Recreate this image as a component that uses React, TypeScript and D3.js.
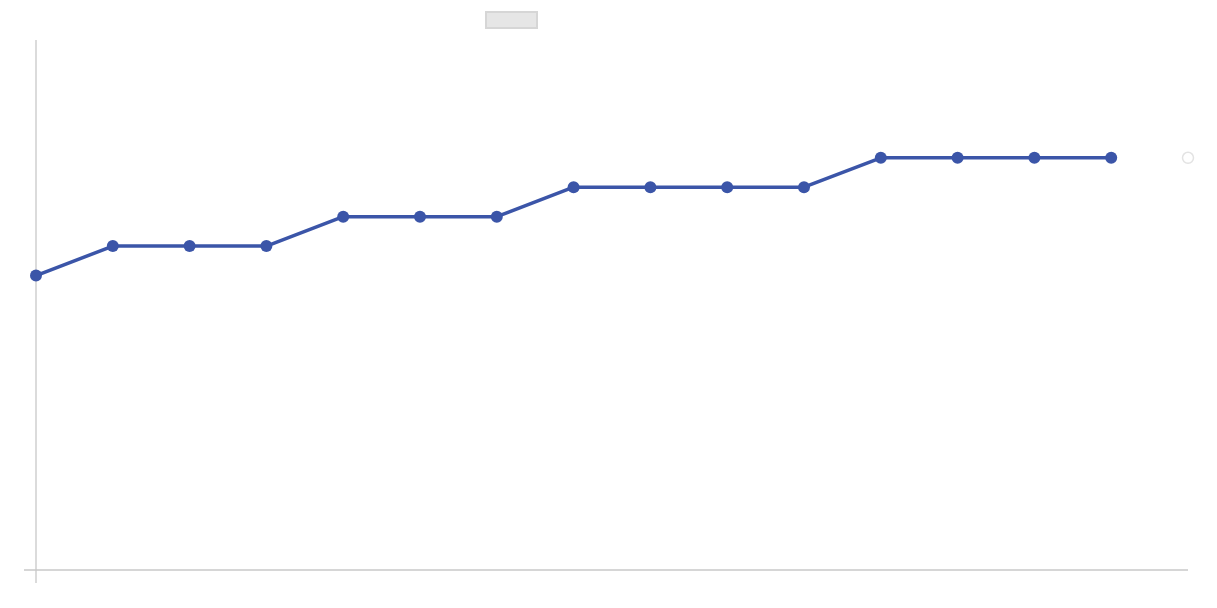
import React from "react";
import * as d3 from "d3";

const categories = ["1","2","3","4","5","6","7","8","9","10","11","12","13","14","15","16"];
const values: (number | null)[] = [10, 11, 11, 11, 12, 12, 12, 13, 13, 13, 13, 14, 14, 14, 14];
const ghostValue = 14;
const yDomain: [number, number] = [0, 18];

const W = 1217;
const H = 608;
const left = 36;
const right = 1188;
const top = 40;
const bottom = 570;

export default function App() {
  const x = d3
    .scalePoint<string>()
    .domain(categories)
    .range([left, right]);
  const y = d3.scaleLinear().domain(yDomain).range([bottom, top]);

  const pts = values.map((v, i) => ({ c: categories[i], v: v as number }));
  const line = d3
    .line<{ c: string; v: number }>()
    .x((d) => x(d.c)!)
    .y((d) => y(d.v));

  const lineColor = "#3b55a8";
  const axisColor = "#c8c8c8";

  return (
    <svg
      width={W}
      height={H}
      style={{ position: "absolute", left: 0, top: 0, background: "#fff" }}
    >
      <rect x={486} y={12} width={51} height={16} fill="#e6e6e6" stroke="#d6d6d6" strokeWidth={2} />
      <line x1={left} x2={left} y1={top} y2={583} stroke={axisColor} strokeWidth={1.3} />
      <line x1={24} x2={right} y1={bottom} y2={bottom} stroke={axisColor} strokeWidth={1.3} />
      <path d={line(pts) || ""} fill="none" stroke={lineColor} strokeWidth={3.5} strokeLinejoin="round" />
      {pts.map((d) => (
        <circle key={d.c} cx={x(d.c)} cy={y(d.v)} r={6} fill={lineColor} />
      ))}
      <circle
        cx={x(categories[categories.length - 1])}
        cy={y(ghostValue)}
        r={5.5}
        fill="#fff"
        stroke="#e3e3e3"
        strokeWidth={1.5}
      />
    </svg>
  );
}
